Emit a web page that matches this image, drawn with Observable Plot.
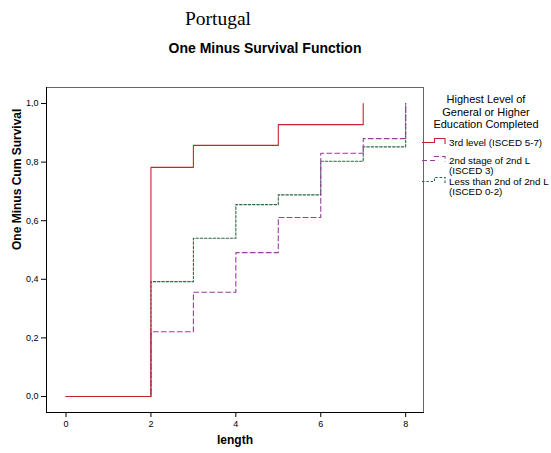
<!DOCTYPE html>
<html>
<head>
<meta charset="utf-8">
<script src="https://cdn.jsdelivr.net/npm/d3@7"></script>
<script src="https://cdn.jsdelivr.net/npm/@observablehq/plot@0.6"></script>
<style>
  html, body { margin: 0; padding: 0; background: #fff; }
  #wrap { position: relative; width: 551px; height: 453px; font-family: "Liberation Sans", Arial, sans-serif; }
  .abs { position: absolute; white-space: nowrap; }
  #title { left: 0; width: 436px; top: 8px; text-align: center; font-family: "Liberation Serif", "Times New Roman", serif; font-size: 19.5px; }
  #subtitle { left: 0; width: 530px; top: 40px; text-align: center; font-weight: bold; font-size: 14px; }
  #chart { position: absolute; left: 0; top: 60px; }
  #legend-title { left: 426px; width: 120px; top: 93px; text-align: center; font-size: 11px; line-height: 12.6px; }
  .item { position: absolute; left: 422px; font-size: 9.8px; line-height: 10.7px; }
  .item svg { position: absolute; left: 0; top: 0; }
  .item span { position: absolute; left: 27px; top: 0; white-space: nowrap; }
</style>
</head>
<body>
<div id="wrap">
  <div id="title" class="abs">Portugal</div>
  <div id="subtitle" class="abs">One Minus Survival Function</div>
  <div id="chart"></div>
  <div id="legend-title" class="abs">Highest Level of<br>General or Higher<br>Education Completed</div>
  <div id="legend"></div>
</div>
<script>
// Series labels
const groups = ["3rd level (ISCED 5-7)", "2nd stage of 2nd L (ISCED 3)", "Less than 2nd of 2nd L (ISCED 0-2)"];
const groupLines = [["3rd level (ISCED 5-7)"], ["2nd stage of 2nd L", "(ISCED 3)"], ["Less than 2nd of 2nd L", "(ISCED 0-2)"]];
const colors = ["#c3262e", "#9a3d9e", "#2c6b46"];
const dashes = [null, "5,3", "2.5,1.8"];

// Step values (one minus cumulative survival) at event times
const timesThird = [0, 2, 3, 5, 7];
const valuesThird = [0, 0.782, 0.857, 0.928, 1.0];
const timesSecond = [0, 2, 3, 4, 5, 6, 7, 8];
const valuesSecond = [0, 0.221, 0.356, 0.491, 0.611, 0.830, 0.880, 1.0];
const timesLess = [0, 2, 3, 4, 5, 6, 7, 8];
const valuesLess = [0, 0.392, 0.540, 0.655, 0.688, 0.803, 0.852, 1.0];

// Axis ticks
const xTicks = [0, 2, 4, 6, 8];
const yTicks = [0, 0.2, 0.4, 0.6, 0.8, 1.0];

const toRows = (ts, vs, g) => ts.map((t, i) => ({length: t, value: vs[i], group: g}));
const third = toRows(timesThird, valuesThird, groups[0]);
const second = toRows(timesSecond, valuesSecond, groups[1]);
const less = toRows(timesLess, valuesLess, groups[2]);

const fmt = d => d.toFixed(1).replace(".", ",");

const chart = Plot.plot({
  width: 551,
  height: 393,
  marginTop: 27,
  marginBottom: 41,
  marginLeft: 46,
  marginRight: 128,
  style: {fontFamily: "Liberation Sans, Arial, sans-serif", background: "#fff", color: "#000"},
  x: {domain: [-0.46, 8.42], axis: null},
  y: {domain: [-0.0546, 1.0546], axis: null},
  marks: [
    Plot.frame({stroke: "#666", strokeWidth: 1}),
    Plot.axisX({ticks: xTicks, tickSize: 5, tickPadding: 3, fontSize: 9, label: null, tickFormat: d => String(d), stroke: "#000"}),
    Plot.axisY({ticks: yTicks, tickSize: 5, tickPadding: 3, fontSize: 9, label: null, tickFormat: fmt, stroke: "#000"}),
    Plot.frame({anchor: "left", stroke: "#000"}),
    Plot.frame({anchor: "bottom", stroke: "#000"}),
    Plot.line(less, {x: "length", y: "value", curve: "step-after", stroke: colors[2], strokeWidth: 1.1, strokeDasharray: dashes[2]}),
    Plot.line(second, {x: "length", y: "value", curve: "step-after", stroke: colors[1], strokeWidth: 1.1, strokeDasharray: dashes[1]}),
    Plot.line(third, {x: "length", y: "value", curve: "step-after", stroke: colors[0], strokeWidth: 1.1}),
    Plot.text(["One Minus Cum Survival"], {frameAnchor: "left", rotate: -90, dx: -29, fontWeight: "bold", fontSize: 12, fill: "#000"}),
    Plot.text(["length"], {frameAnchor: "bottom", dy: 31.5, fontWeight: "bold", fontSize: 12, fill: "#000"})
  ]
});
document.getElementById("chart").appendChild(chart);

// Legend
const legend = document.getElementById("legend");
const itemTops = [138, 155.5, 176.5];
groupLines.forEach((lines, i) => {
  const div = document.createElement("div");
  div.className = "item";
  div.style.top = itemTops[i] + "px";
  const svg = d3.create("svg").attr("width", 26).attr("height", 12);
  svg.append("path")
    .attr("d", "M0,4.5H12.5V0.5H23V6")
    .attr("fill", "none")
    .attr("stroke", colors[i])
    .attr("stroke-width", 1.1)
    .attr("stroke-dasharray", dashes[i]);
  div.appendChild(svg.node());
  const span = document.createElement("span");
  span.innerHTML = lines.join("<br>");
  div.appendChild(span);
  legend.appendChild(div);
});
</script>
</body>
</html>
